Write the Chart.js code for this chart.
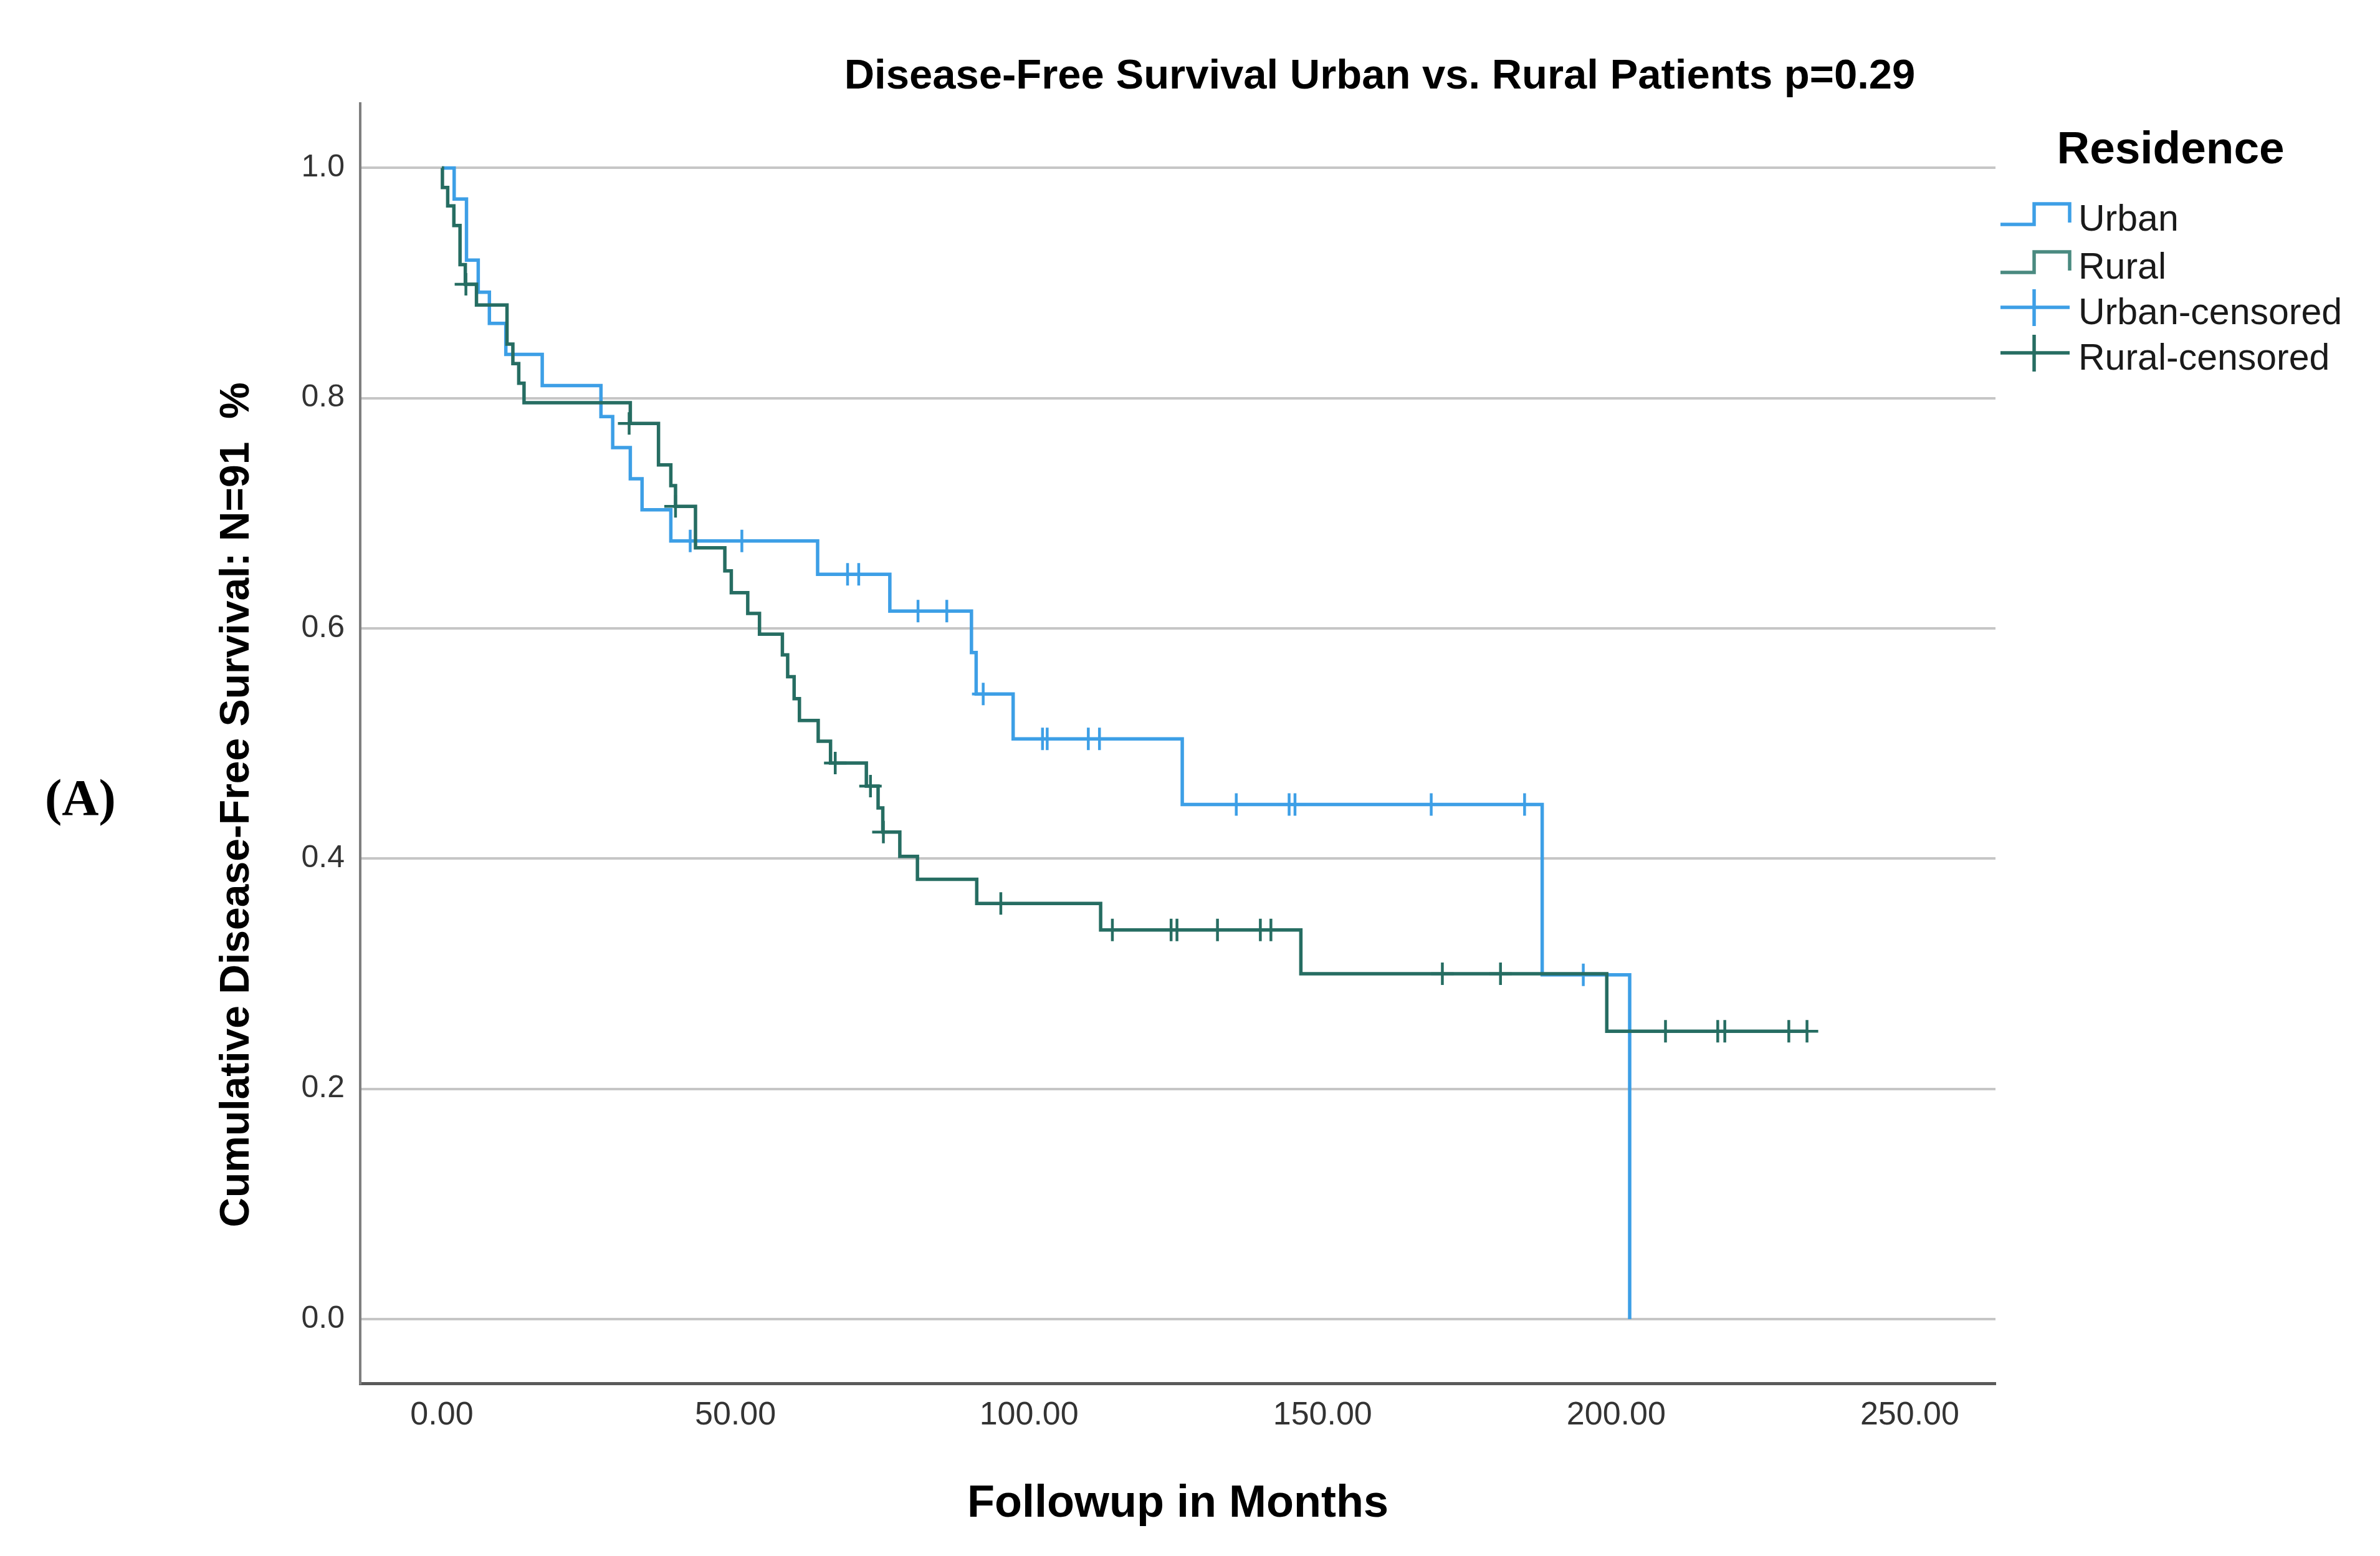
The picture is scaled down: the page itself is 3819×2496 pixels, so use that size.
<!DOCTYPE html>
<html>
<head>
<meta charset="utf-8">
<script src="https://cdn.jsdelivr.net/npm/chart.js@4.4.0/dist/chart.umd.min.js"></script>
<style>
  html, body { margin: 0; padding: 0; background: #fff; }
  canvas { display: block; }
</style>
</head>
<body>
<canvas id="km" width="3819" height="2496"></canvas>
<script>
// Kaplan-Meier steps (time in months, cumulative survival)
const urbanTimes = [0, 2.1, 4.2, 6.2, 8.1, 10.9, 17.1, 27.1, 29.1, 32.1, 34.1, 39.0, 64.0, 76.3, 90.2, 91.0, 97.3, 126.1, 187.4, 202.3];
const urbanSurv  = [1, 0.973, 0.920, 0.892, 0.865, 0.838, 0.811, 0.784, 0.757, 0.730, 0.703, 0.676, 0.647, 0.615, 0.579, 0.543, 0.504, 0.447, 0.299, 0];
const urbanCensTimes = [42.3, 51.1, 69.1, 71.0, 81.1, 86.0, 92.2, 102.3, 103.1, 110.1, 112.0, 135.3, 144.3, 145.3, 168.5, 184.4, 194.4];
const urbanCensSurv  = [0.676, 0.676, 0.647, 0.647, 0.615, 0.615, 0.543, 0.504, 0.504, 0.504, 0.504, 0.447, 0.447, 0.447, 0.447, 0.447, 0.299];

const ruralTimes = [0, 0.1, 1.0, 2.05, 3.1, 4.0, 5.9, 11.1, 12.1, 13.1, 14.0, 32.1, 36.9, 39.0, 39.8, 43.2, 48.2, 49.3, 52.1, 54.1, 58.0, 58.9, 60.0, 60.9, 64.1, 66.2, 72.3, 74.3, 75.1, 78.0, 81.0, 91.1, 112.2, 146.3, 198.4, 232.5];
const ruralSurv  = [1, 0.983, 0.967, 0.950, 0.916, 0.899, 0.881, 0.847, 0.830, 0.813, 0.796, 0.778, 0.742, 0.724, 0.706, 0.670, 0.650, 0.631, 0.613, 0.595, 0.577, 0.558, 0.539, 0.520, 0.502, 0.483, 0.463, 0.444, 0.423, 0.402, 0.382, 0.361, 0.338, 0.300, 0.250, 0.250];
const ruralCensTimes = [4.1, 31.9, 39.8, 67.0, 73.0, 75.2, 95.2, 114.2, 124.2, 125.2, 132.1, 139.4, 141.2, 170.4, 180.3, 208.4, 217.3, 218.5, 229.4, 232.5];
const ruralCensSurv  = [0.899, 0.778, 0.706, 0.483, 0.463, 0.423, 0.361, 0.338, 0.338, 0.338, 0.338, 0.338, 0.338, 0.300, 0.300, 0.250, 0.250, 0.250, 0.250, 0.250];

const xTicks = [0, 50, 100, 150, 200, 250];
const yTicks = [0, 0.2, 0.4, 0.6, 0.8, 1.0];

const seriesNames = ["Urban", "Rural", "Urban-censored", "Rural-censored"];
const chartTitle = "Disease-Free Survival Urban vs. Rural Patients p=0.29";
const xTitle = "Followup in Months";
const yTitle = "Cumulative Disease-Free Survival: N=91  %";
const legendTitle = "Residence";
const panelLabel = "(A)";

const URBAN = "#3d9fe6";
const RURAL = "#266d62";
const FONT = "'Liberation Sans', Arial, sans-serif";

const toPoints = (xs, ys) => xs.map((x, i) => ({ x: x, y: ys[i] }));

// titles, panel letter and legend drawn on top of the chart
const textPlugin = {
  id: "textPlugin",
  afterDraw(chart) {
    const ctx = chart.ctx;
    const area = chart.chartArea;
    ctx.save();
    ctx.fillStyle = "#000";
    ctx.textBaseline = "alphabetic";

    ctx.font = "bold 67px " + FONT;
    ctx.textAlign = "center";
    ctx.fillText(chartTitle, 2214, 142);

    ctx.font = "bold 72px " + FONT;
    ctx.fillText(xTitle, (area.left + area.right) / 2, 2433);

    ctx.save();
    ctx.translate(381, 1291);
    ctx.rotate(-Math.PI / 2);
    ctx.font = "bold 66px " + FONT;
    ctx.textBaseline = "middle";
    ctx.fillText(yTitle, 0, 0);
    ctx.restore();

    ctx.font = "bold 82px 'Liberation Serif', 'Times New Roman', serif";
    ctx.textAlign = "left";
    ctx.fillText(panelLabel, 72, 1307);

    // legend
    ctx.font = "bold 73px " + FONT;
    ctx.textAlign = "center";
    ctx.fillText(legendTitle, 3483, 262);

    const x0 = 3210, x1 = 3264, x2 = 3321;
    const baselines = [370, 447, 520, 593];
    const colors = [URBAN, "#4a8a80", URBAN, RURAL];
    ctx.lineWidth = 5.5;
    ctx.lineCap = "butt";
    baselines.forEach((b, i) => {
      ctx.strokeStyle = colors[i];
      ctx.beginPath();
      if (i < 2) {
        ctx.moveTo(x0, b - 10);
        ctx.lineTo(x1, b - 10);
        ctx.lineTo(x1, b - 43);
        ctx.lineTo(x2, b - 43);
        ctx.lineTo(x2, b - 13);
      } else {
        ctx.moveTo(x0, b - 27);
        ctx.lineTo(x2, b - 27);
        ctx.moveTo(x1, b - 56);
        ctx.lineTo(x1, b + 3);
      }
      ctx.stroke();
    });
    ctx.font = "59px " + FONT;
    ctx.textAlign = "left";
    ctx.fillStyle = "#1a1a1a";
    baselines.forEach((b, i) => ctx.fillText(seriesNames[i], 3335, b));
    ctx.restore();
  }
};

new Chart(document.getElementById("km"), {
  type: "line",
  data: {
    datasets: [
      {
        label: seriesNames[3],
        data: toPoints(ruralCensTimes, ruralCensSurv),
        showLine: false,
        pointStyle: "cross",
        pointRadius: 18,
        pointBorderWidth: 4.5,
        borderColor: RURAL,
        backgroundColor: RURAL
      },
      {
        label: seriesNames[1],
        data: toPoints(ruralTimes, ruralSurv),
        stepped: true,
        borderColor: RURAL,
        borderWidth: 5.5,
        pointRadius: 0,
        fill: false
      },
      {
        label: seriesNames[2],
        data: toPoints(urbanCensTimes, urbanCensSurv),
        showLine: false,
        pointStyle: "cross",
        pointRadius: 18,
        pointBorderWidth: 4.5,
        borderColor: URBAN,
        backgroundColor: URBAN
      },
      {
        label: seriesNames[0],
        data: toPoints(urbanTimes, urbanSurv),
        stepped: true,
        borderColor: URBAN,
        borderWidth: 5.5,
        pointRadius: 0,
        fill: false
      }
    ]
  },
  options: {
    responsive: false,
    animation: false,
    devicePixelRatio: 1,
    layout: { autoPadding: false, padding: { left: 0, top: 166, right: 617, bottom: 0 } },
    plugins: {
      legend: { display: false },
      title: { display: false },
      tooltip: { enabled: false }
    },
    scales: {
      x: {
        type: "linear",
        min: -13.9,
        max: 264.6,
        afterBuildTicks: (scale) => { scale.ticks = xTicks.map(v => ({ value: v })); },
        afterFit: (scale) => { scale.height = 277; },
        grid: { display: false, drawTicks: false },
        border: { display: true, color: "#5a5a5a", width: 5 },
        ticks: {
          padding: 20,
          color: "#333",
          font: { family: FONT, size: 52 },
          callback: (v) => Number(v).toFixed(2)
        }
      },
      y: {
        type: "linear",
        min: -0.0558,
        max: 1.056,
        afterBuildTicks: (scale) => { scale.ticks = yTicks.map(v => ({ value: v })); },
        afterFit: (scale) => { scale.width = 578; },
        grid: { color: "#c6c6c6", lineWidth: 4, drawTicks: false },
        border: { display: true, color: "#7f7f7f", width: 4 },
        ticks: {
          padding: 25,
          color: "#333",
          font: { family: FONT, size: 50 },
          callback: (v) => Number(v).toFixed(1)
        }
      }
    }
  },
  plugins: [textPlugin]
});
</script>
</body>
</html>
